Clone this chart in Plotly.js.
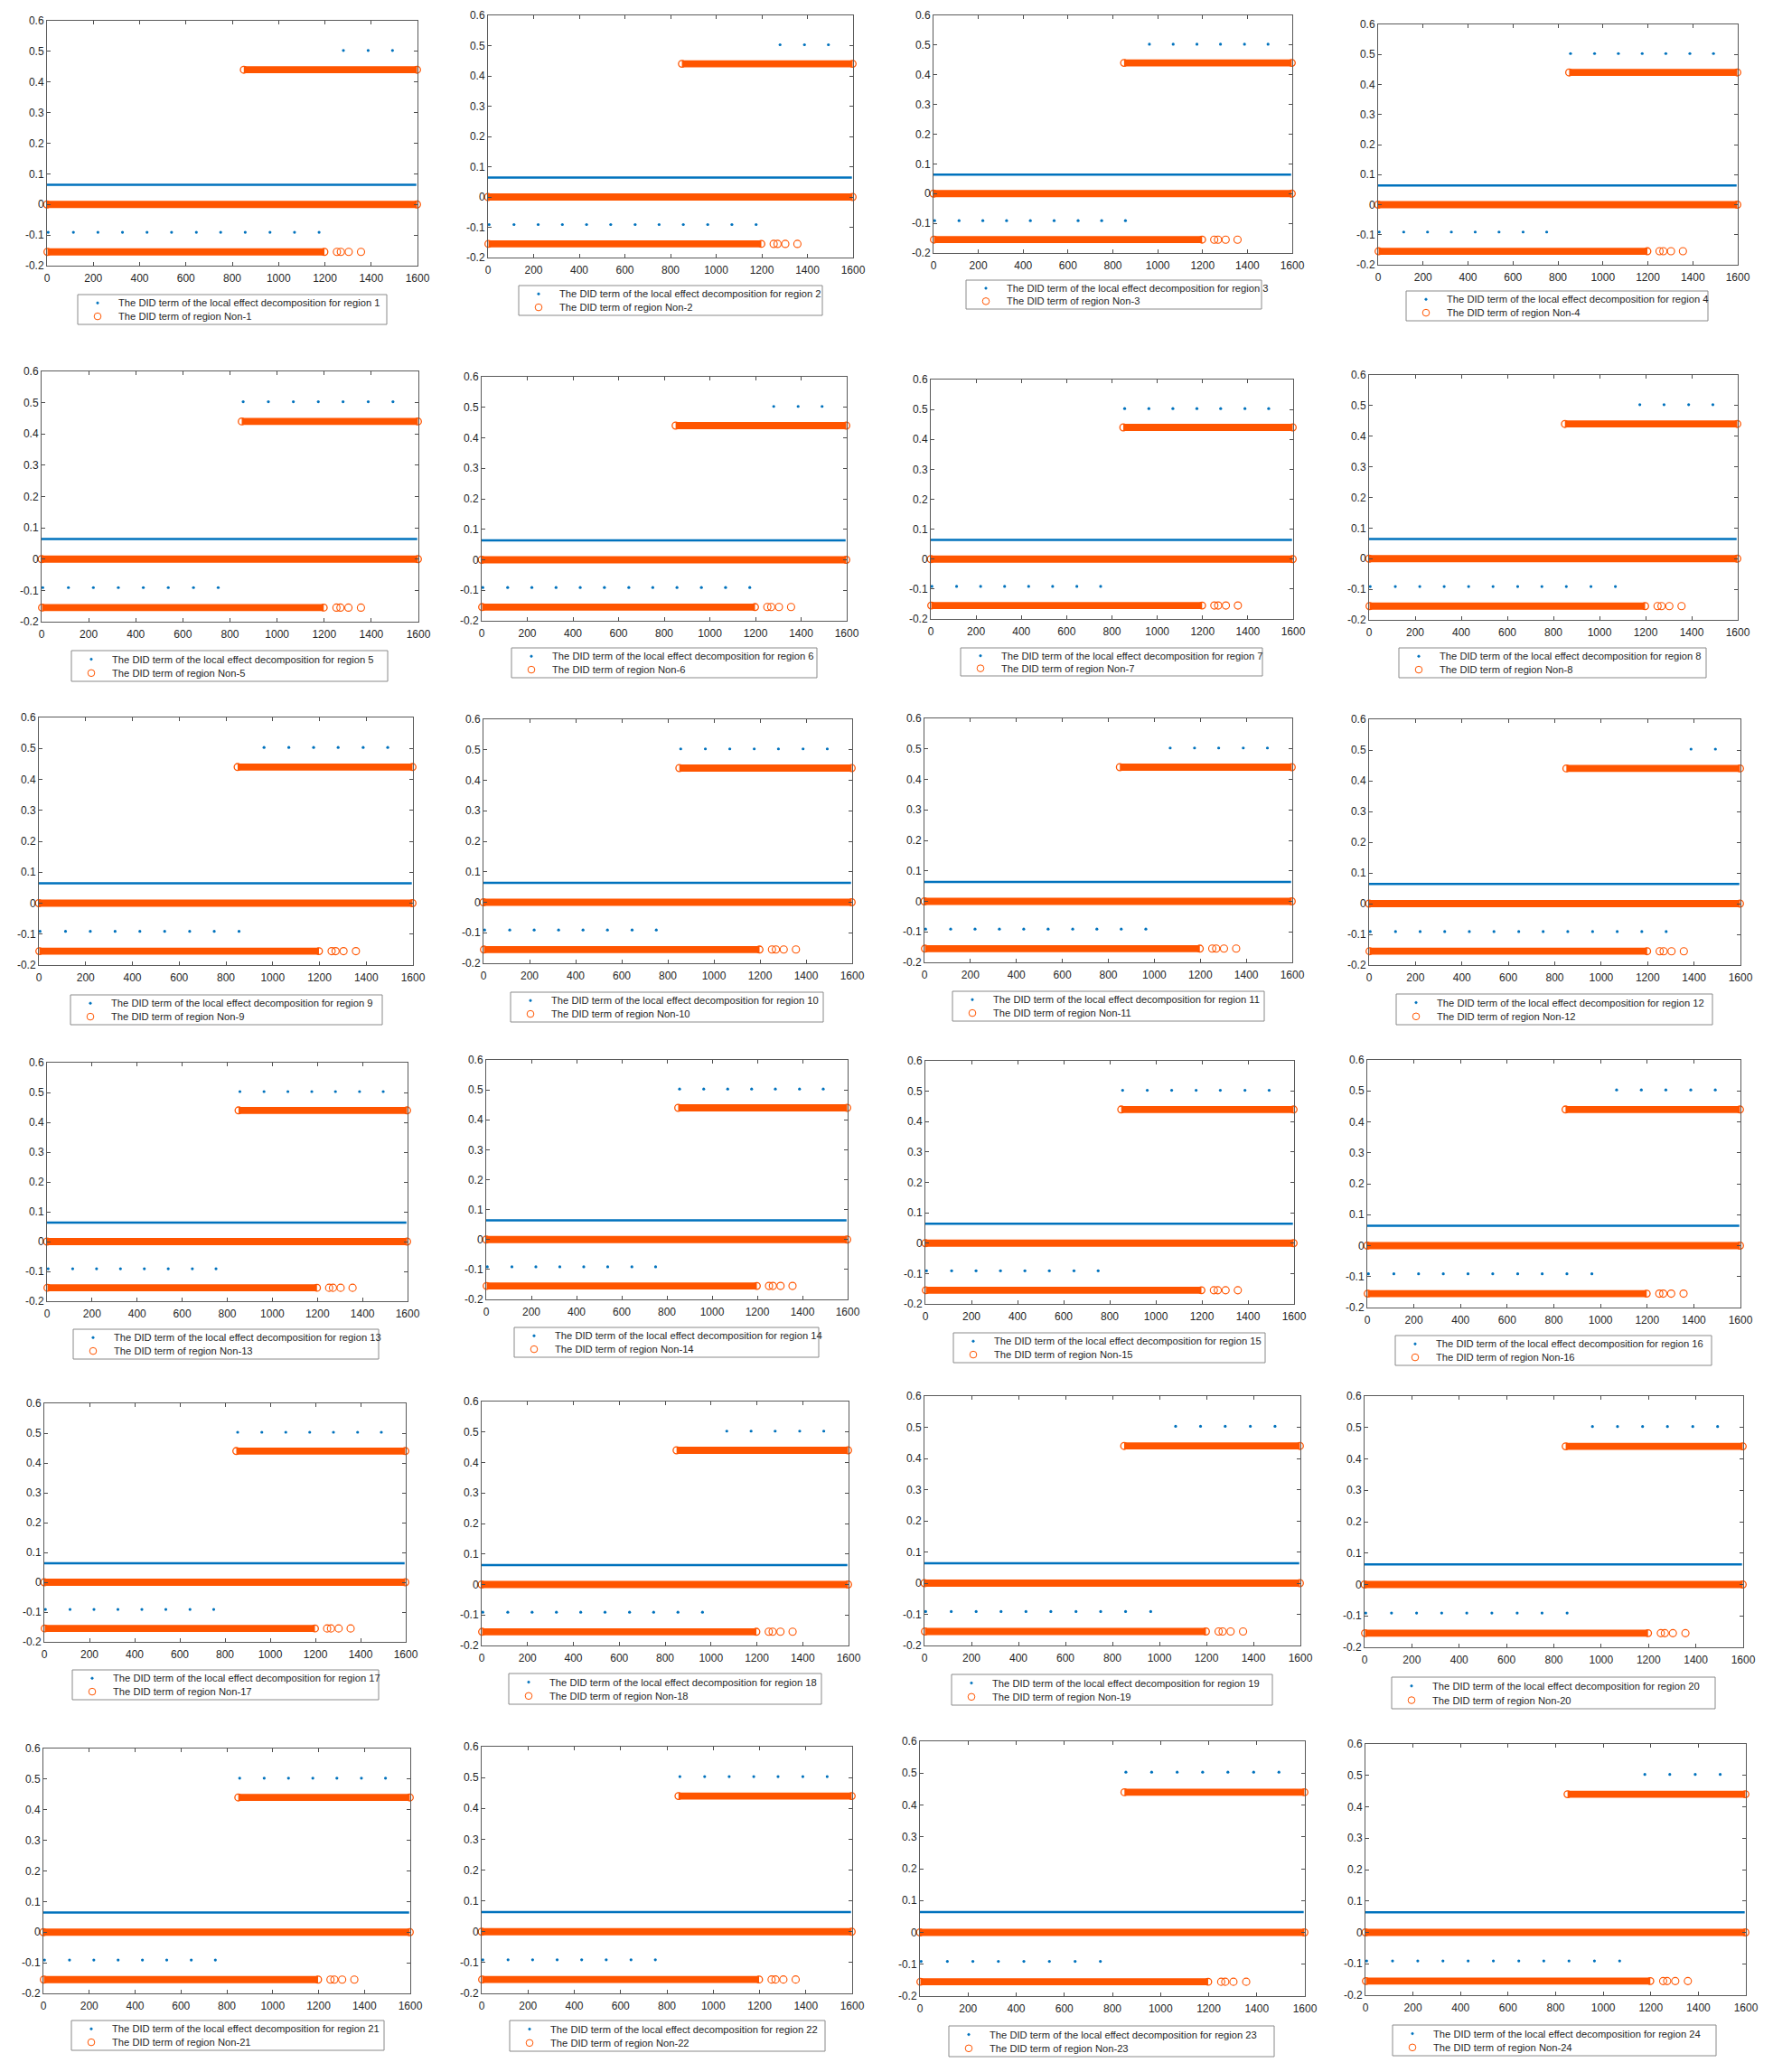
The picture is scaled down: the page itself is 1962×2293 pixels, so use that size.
<!DOCTYPE html>
<html>
<head>
<meta charset="utf-8">
<script src="https://cdn.plot.ly/plotly-3.0.1.min.js"></script>
<style>
  html, body { margin: 0; padding: 0; background: #ffffff; }
  #chart { width: 1962px; height: 2293px; }
</style>
</head>
<body>
<div id="chart"></div>
<script>
// ---------------- DATA ----------------
const regions = ['1','2','3','4','5','6','7','8','9','10','11','12',
                 '13','14','15','16','17','18','19','20','21','22','23','24'];
const xTickVals = [0, 200, 400, 600, 800, 1000, 1200, 1400, 1600];
const xTickText = ['0', '200', '400', '600', '800', '1000', '1200', '1400', '1600'];
const yTickVals = [-0.2, -0.1, 0, 0.1, 0.2, 0.3, 0.4, 0.5, 0.6];
const yTickText = ['-0.2', '-0.1', '0', '0.1', '0.2', '0.3', '0.4', '0.5', '0.6'];

// sparse blue dots (local effect decomposition), same x lattice in every panel
const blueDotX = [5, 114, 220, 326, 432, 538, 645, 750, 856, 963, 1069, 1175, 1280, 1387, 1492];
const blueLowY = -0.091;
const blueHighY = 0.503;
// number of lattice dots sitting at the low value, per region (rest are high)
const blueLowCount = [12, 12, 9, 8, 8, 12, 8, 11, 9, 8, 10, 13, 8, 8, 8, 10, 8, 10, 10, 9, 8, 8, 8, 11];
// dense blue series (drawn as a continuous band)
const blueLineX = [0, 1595];
const blueLineY = 0.064;

// dense orange circles (region Non-k) drawn as bands, plus sparse tail circles
const orangeZeroX = [0, 1598];
const orangeZeroY = 0;
const orangeHighX = [850, 1598];
const orangeHighY = 0.44;
const orangeLowX = [2, 1198];
const orangeLowY = -0.155;
const orangeLowTailX = [1252, 1269, 1303, 1356];

// ---------------- LAYOUT (pixel boxes) ----------------
const W = 1962, H = 2293;
// [left, right, top, bottom] of each axes box
const axesBox = [
  [52, 462, 23, 294], [540, 944, 17, 285], [1033, 1430, 17, 280], [1525, 1923, 27, 293],
  [46, 463, 411, 688], [533, 937, 417, 687], [1030, 1431, 420, 685], [1515, 1923, 415, 686],
  [43, 457, 794, 1068], [535, 943, 796, 1066], [1023, 1430, 795, 1065], [1515, 1926, 796, 1068],
  [52, 451, 1176, 1440], [538, 938, 1173, 1438], [1024, 1432, 1174, 1443], [1513, 1926, 1173, 1447],
  [49, 449, 1553, 1817], [533, 939, 1551, 1821], [1023, 1439, 1545, 1821], [1510, 1929, 1545, 1823],
  [48, 454, 1935, 2206], [533, 943, 1933, 2206], [1018, 1444, 1927, 2209], [1511, 1932, 1930, 2208]
];
// [left, right, top, bottom] of each legend box
const legendBox = [
  [86, 428, 326, 359], [574, 910, 316, 349], [1069, 1396, 310, 342], [1556, 1890, 322, 355],
  [79, 429, 720, 754], [566, 904, 717, 750], [1063, 1397, 717, 748], [1548, 1888, 717, 750],
  [78, 423, 1101, 1134], [565, 911, 1098, 1131], [1054, 1399, 1097, 1130], [1545, 1895, 1100, 1134],
  [81, 419, 1471, 1504], [569, 906, 1469, 1502], [1055, 1400, 1475, 1508], [1544, 1894, 1478, 1511],
  [80, 419, 1848, 1881], [563, 909, 1852, 1886], [1053, 1408, 1853, 1887], [1540, 1898, 1856, 1891],
  [79, 425, 2236, 2269], [564, 913, 2236, 2270], [1050, 1410, 2242, 2276], [1541, 1899, 2241, 2275]
];

const BLUE = '#0072BD';
const ORANGE = '#FF5500';
const FONT = 'Liberation Sans, Arial, Helvetica, sans-serif';
const px = v => v / W;
const py = v => 1 - v / H;

const traces = [];
const layout = {
  width: W, height: H,
  margin: {l: 0, r: 0, t: 0, b: 0},
  paper_bgcolor: '#ffffff',
  plot_bgcolor: '#ffffff',
  showlegend: false,
  font: {family: FONT, color: '#262626'},
  shapes: [],
  annotations: []
};

regions.forEach((reg, i) => {
  const n = i + 1;
  const xa = n === 1 ? 'x' : 'x' + n;
  const ya = n === 1 ? 'y' : 'y' + n;
  const [l, r, t, b] = axesBox[i];

  layout[n === 1 ? 'xaxis' : 'xaxis' + n] = {
    domain: [px(l), px(r)], anchor: ya, range: [0, 1600],
    tickmode: 'array', tickvals: xTickVals, ticktext: xTickText,
    ticks: 'inside', ticklen: 4, tickwidth: 1, tickcolor: '#4d4d4d',
    mirror: 'allticks', showline: true, linecolor: '#5a5a5a', linewidth: 1,
    showgrid: false, zeroline: false, fixedrange: true,
    ticklabelstandoff: 3,
    tickfont: {family: FONT, size: 12, color: '#262626'}
  };
  layout[n === 1 ? 'yaxis' : 'yaxis' + n] = {
    domain: [py(b), py(t)], anchor: xa, range: [-0.2, 0.6],
    tickmode: 'array', tickvals: yTickVals, ticktext: yTickText,
    ticks: 'inside', ticklen: 4, tickwidth: 1, tickcolor: '#4d4d4d',
    mirror: 'allticks', showline: true, linecolor: '#5a5a5a', linewidth: 1,
    showgrid: false, zeroline: false, fixedrange: true,
    tickfont: {family: FONT, size: 12, color: '#262626'}
  };

  // dense blue series
  traces.push({
    type: 'scatter', mode: 'lines', xaxis: xa, yaxis: ya,
    x: blueLineX, y: blueLineX.map(() => blueLineY),
    line: {color: BLUE, width: 2.5}, hoverinfo: 'skip', cliponaxis: false
  });
  // sparse blue dots
  const nLow = blueLowCount[i];
  traces.push({
    type: 'scatter', mode: 'markers', xaxis: xa, yaxis: ya,
    x: blueDotX, y: blueDotX.map((_, j) => j < nLow ? blueLowY : blueHighY),
    marker: {color: BLUE, size: 3.2, line: {width: 0}}, hoverinfo: 'skip', cliponaxis: false
  });
  // orange bands (dense open circles)
  [[orangeZeroX, orangeZeroY], [orangeHighX, orangeHighY], [orangeLowX, orangeLowY]].forEach(([bx, by]) => {
    traces.push({
      type: 'scatter', mode: 'lines+markers', xaxis: xa, yaxis: ya,
      x: bx, y: bx.map(() => by),
      line: {color: ORANGE, width: 7.8},
      marker: {symbol: 'circle-open', size: 7.6, color: ORANGE, line: {width: 1.3, color: ORANGE}},
      hoverinfo: 'skip', cliponaxis: false
    });
  });
  // sparse orange tail circles
  traces.push({
    type: 'scatter', mode: 'markers', xaxis: xa, yaxis: ya,
    x: orangeLowTailX, y: orangeLowTailX.map(() => orangeLowY),
    marker: {symbol: 'circle-open', size: 8, color: ORANGE, line: {width: 1.1, color: ORANGE}},
    hoverinfo: 'skip', cliponaxis: false
  });

  // legend box
  const [ll, lr, lt, lb] = legendBox[i];
  const lh = lb - lt;
  layout.shapes.push({
    type: 'rect', xref: 'paper', yref: 'paper',
    x0: px(ll), x1: px(lr), y0: py(lb), y1: py(lt),
    line: {color: '#8a8a8a', width: 1}, fillcolor: 'rgba(255,255,255,0)', layer: 'above'
  });
  const row1 = lt + 0.28 * lh;
  const row2 = lt + 0.73 * lh;
  const sx = ll + 22;
  // blue dot symbol
  layout.shapes.push({
    type: 'circle', xref: 'paper', yref: 'paper',
    x0: px(sx - 1.3), x1: px(sx + 1.3), y0: py(row1 + 1.3), y1: py(row1 - 1.3),
    line: {color: BLUE, width: 0.5}, fillcolor: BLUE, layer: 'above'
  });
  // orange open circle symbol
  layout.shapes.push({
    type: 'circle', xref: 'paper', yref: 'paper',
    x0: px(sx - 3.8), x1: px(sx + 3.8), y0: py(row2 + 3.8), y1: py(row2 - 3.8),
    line: {color: ORANGE, width: 1}, fillcolor: 'rgba(0,0,0,0)', layer: 'above'
  });
  layout.annotations.push({
    xref: 'paper', yref: 'paper', x: px(ll + 43), y: py(row1),
    xanchor: 'left', yanchor: 'middle', showarrow: false,
    text: 'The DID term of the local effect decomposition for region ' + reg,
    font: {family: FONT, size: 11.2, color: '#262626'}
  });
  layout.annotations.push({
    xref: 'paper', yref: 'paper', x: px(ll + 43), y: py(row2),
    xanchor: 'left', yanchor: 'middle', showarrow: false,
    text: 'The DID term of region Non-' + reg,
    font: {family: FONT, size: 11.2, color: '#262626'}
  });
});

Plotly.newPlot('chart', traces, layout, {staticPlot: true, displayModeBar: false});
</script>
</body>
</html>
